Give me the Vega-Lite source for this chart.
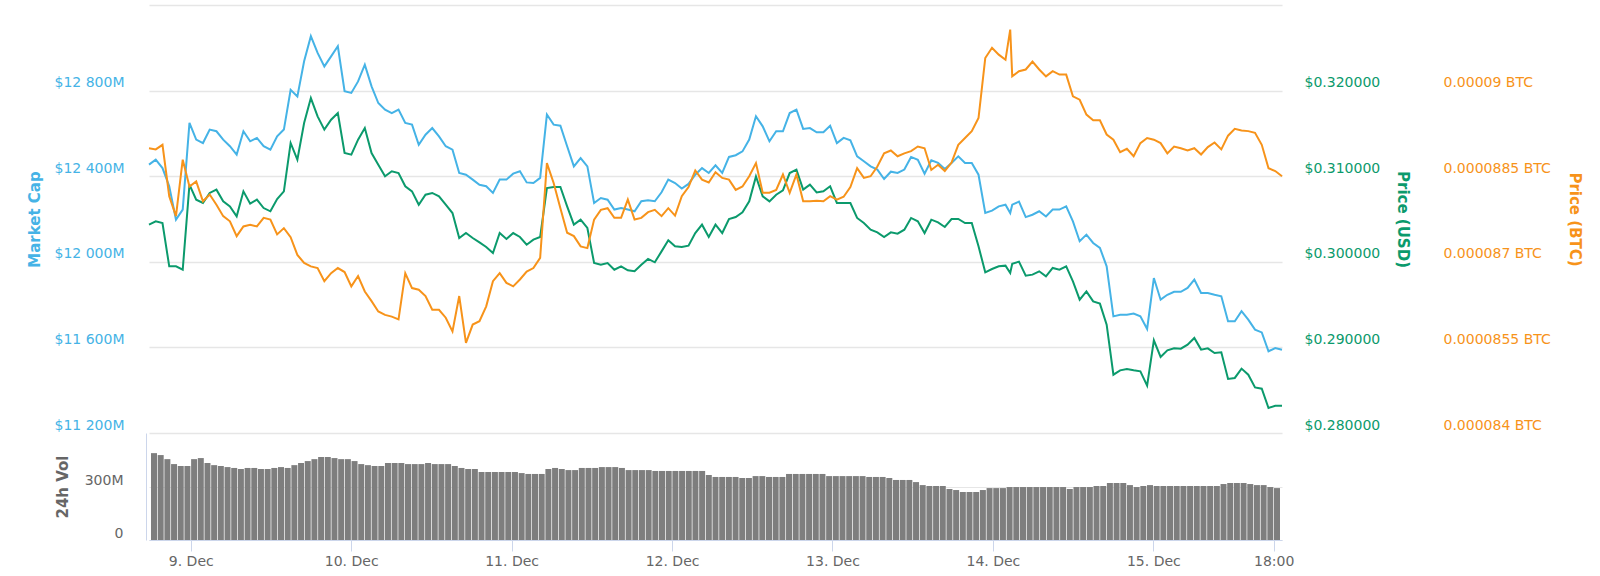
{
  "$schema": "https://vega.github.io/schema/vega-lite/v6.json",
  "description": "Market cap, price (USD and BTC) and 24h volume over seven days, 8 to 15 December.",
  "background": "white",
  "padding": {"left": 27, "top": 5, "right": 8, "bottom": 0},
  "spacing": 0,
  "config": {
    "font": "DejaVu Sans",
    "view": {"stroke": null},
    "axis": {"labelFont": "DejaVu Sans", "titleFont": "DejaVu Sans", "labelFontSize": 14, "titleFontSize": 15, "titleFontWeight": "bold", "grid": false, "domain": false, "ticks": false}
  },
  "data": {"values": [
    {"time": "2018-12-08T18:30", "market_cap": 12454, "price_usd": 0.30434, "price_btc": 0.00008899, "volume": 492},
    {"time": "2018-12-08T19:30", "market_cap": 12477, "price_usd": 0.30473, "price_btc": 0.00008897, "volume": 481},
    {"time": "2018-12-08T20:30", "market_cap": 12438, "price_usd": 0.30453, "price_btc": 0.00008905, "volume": 458},
    {"time": "2018-12-08T21:30", "market_cap": 12353, "price_usd": 0.29947, "price_btc": 0.00008815, "volume": 430},
    {"time": "2018-12-08T22:30", "market_cap": 12197, "price_usd": 0.29947, "price_btc": 0.0000878, "volume": 419},
    {"time": "2018-12-08T23:30", "market_cap": 12244, "price_usd": 0.29908, "price_btc": 0.00008879, "volume": 419},
    {"time": "2018-12-09T00:30", "market_cap": 12649, "price_usd": 0.30901, "price_btc": 0.00008832, "volume": 458},
    {"time": "2018-12-09T01:30", "market_cap": 12571, "price_usd": 0.30726, "price_btc": 0.00008841, "volume": 464},
    {"time": "2018-12-09T02:30", "market_cap": 12555, "price_usd": 0.30687, "price_btc": 0.00008806, "volume": 436},
    {"time": "2018-12-09T03:30", "market_cap": 12618, "price_usd": 0.30804, "price_btc": 0.00008818, "volume": 424},
    {"time": "2018-12-09T04:30", "market_cap": 12610, "price_usd": 0.30843, "price_btc": 0.000088, "volume": 419},
    {"time": "2018-12-09T05:30", "market_cap": 12571, "price_usd": 0.30706, "price_btc": 0.0000878, "volume": 413},
    {"time": "2018-12-09T06:30", "market_cap": 12540, "price_usd": 0.30648, "price_btc": 0.00008771, "volume": 408},
    {"time": "2018-12-09T07:30", "market_cap": 12501, "price_usd": 0.30531, "price_btc": 0.00008745, "volume": 402},
    {"time": "2018-12-09T08:30", "market_cap": 12610, "price_usd": 0.30823, "price_btc": 0.00008762, "volume": 408},
    {"time": "2018-12-09T09:30", "market_cap": 12563, "price_usd": 0.30679, "price_btc": 0.00008765, "volume": 408},
    {"time": "2018-12-09T10:30", "market_cap": 12579, "price_usd": 0.30726, "price_btc": 0.00008762, "volume": 402},
    {"time": "2018-12-09T11:30", "market_cap": 12540, "price_usd": 0.30628, "price_btc": 0.00008777, "volume": 402},
    {"time": "2018-12-09T12:30", "market_cap": 12524, "price_usd": 0.3059, "price_btc": 0.00008774, "volume": 408},
    {"time": "2018-12-09T13:30", "market_cap": 12586, "price_usd": 0.30734, "price_btc": 0.00008748, "volume": 413},
    {"time": "2018-12-09T14:30", "market_cap": 12618, "price_usd": 0.30823, "price_btc": 0.00008759, "volume": 408},
    {"time": "2018-12-09T15:30", "market_cap": 12804, "price_usd": 0.31388, "price_btc": 0.00008743, "volume": 424},
    {"time": "2018-12-09T16:30", "market_cap": 12773, "price_usd": 0.31193, "price_btc": 0.00008712, "volume": 436},
    {"time": "2018-12-09T17:30", "market_cap": 12937, "price_usd": 0.31621, "price_btc": 0.00008698, "volume": 447},
    {"time": "2018-12-09T18:30", "market_cap": 13054, "price_usd": 0.31913, "price_btc": 0.00008692, "volume": 458},
    {"time": "2018-12-09T19:30", "market_cap": 12976, "price_usd": 0.31699, "price_btc": 0.00008689, "volume": 470},
    {"time": "2018-12-09T20:30", "market_cap": 12913, "price_usd": 0.31544, "price_btc": 0.00008666, "volume": 470},
    {"time": "2018-12-09T21:30", "market_cap": 12960, "price_usd": 0.3166, "price_btc": 0.0000868, "volume": 464},
    {"time": "2018-12-09T22:30", "market_cap": 13007, "price_usd": 0.31738, "price_btc": 0.00008689, "volume": 458},
    {"time": "2018-12-09T23:30", "market_cap": 12797, "price_usd": 0.31271, "price_btc": 0.00008682, "volume": 458},
    {"time": "2018-12-10T00:30", "market_cap": 12789, "price_usd": 0.31252, "price_btc": 0.00008657, "volume": 447},
    {"time": "2018-12-10T01:30", "market_cap": 12843, "price_usd": 0.31427, "price_btc": 0.00008675, "volume": 430},
    {"time": "2018-12-10T02:30", "market_cap": 12921, "price_usd": 0.31563, "price_btc": 0.00008648, "volume": 424},
    {"time": "2018-12-10T03:30", "market_cap": 12820, "price_usd": 0.31271, "price_btc": 0.00008631, "volume": 419},
    {"time": "2018-12-10T04:30", "market_cap": 12742, "price_usd": 0.31135, "price_btc": 0.00008613, "volume": 419},
    {"time": "2018-12-10T05:30", "market_cap": 12711, "price_usd": 0.30998, "price_btc": 0.00008607, "volume": 436},
    {"time": "2018-12-10T06:30", "market_cap": 12695, "price_usd": 0.31057, "price_btc": 0.00008604, "volume": 436},
    {"time": "2018-12-10T07:30", "market_cap": 12711, "price_usd": 0.31037, "price_btc": 0.00008599, "volume": 436},
    {"time": "2018-12-10T08:30", "market_cap": 12649, "price_usd": 0.30882, "price_btc": 0.0000868, "volume": 430},
    {"time": "2018-12-10T09:30", "market_cap": 12641, "price_usd": 0.30823, "price_btc": 0.00008654, "volume": 430},
    {"time": "2018-12-10T10:30", "market_cap": 12547, "price_usd": 0.30667, "price_btc": 0.00008651, "volume": 430},
    {"time": "2018-12-10T11:30", "market_cap": 12594, "price_usd": 0.30784, "price_btc": 0.0000864, "volume": 436},
    {"time": "2018-12-10T12:30", "market_cap": 12625, "price_usd": 0.30804, "price_btc": 0.00008616, "volume": 430},
    {"time": "2018-12-10T13:30", "market_cap": 12586, "price_usd": 0.30765, "price_btc": 0.00008616, "volume": 430},
    {"time": "2018-12-10T14:30", "market_cap": 12540, "price_usd": 0.30667, "price_btc": 0.00008602, "volume": 430},
    {"time": "2018-12-10T15:30", "market_cap": 12524, "price_usd": 0.3057, "price_btc": 0.00008578, "volume": 419},
    {"time": "2018-12-10T16:30", "market_cap": 12415, "price_usd": 0.30278, "price_btc": 0.0000864, "volume": 408},
    {"time": "2018-12-10T17:30", "market_cap": 12407, "price_usd": 0.30336, "price_btc": 0.00008558, "volume": 402},
    {"time": "2018-12-10T18:30", "market_cap": 12384, "price_usd": 0.30278, "price_btc": 0.0000859, "volume": 402},
    {"time": "2018-12-10T19:30", "market_cap": 12360, "price_usd": 0.30227, "price_btc": 0.00008596, "volume": 385},
    {"time": "2018-12-10T20:30", "market_cap": 12353, "price_usd": 0.30173, "price_btc": 0.00008622, "volume": 385},
    {"time": "2018-12-10T21:30", "market_cap": 12322, "price_usd": 0.30103, "price_btc": 0.00008666, "volume": 385},
    {"time": "2018-12-10T22:30", "market_cap": 12384, "price_usd": 0.30336, "price_btc": 0.0000868, "volume": 385},
    {"time": "2018-12-10T23:30", "market_cap": 12384, "price_usd": 0.30266, "price_btc": 0.00008663, "volume": 385},
    {"time": "2018-12-11T00:30", "market_cap": 12412, "price_usd": 0.30336, "price_btc": 0.00008657, "volume": 385},
    {"time": "2018-12-11T01:30", "market_cap": 12423, "price_usd": 0.3029, "price_btc": 0.00008669, "volume": 379},
    {"time": "2018-12-11T02:30", "market_cap": 12371, "price_usd": 0.302, "price_btc": 0.00008683, "volume": 374},
    {"time": "2018-12-11T03:30", "market_cap": 12368, "price_usd": 0.30259, "price_btc": 0.00008689, "volume": 374},
    {"time": "2018-12-11T04:30", "market_cap": 12392, "price_usd": 0.3029, "price_btc": 0.00008707, "volume": 374},
    {"time": "2018-12-11T05:30", "market_cap": 12688, "price_usd": 0.30862, "price_btc": 0.00008873, "volume": 402},
    {"time": "2018-12-11T06:30", "market_cap": 12641, "price_usd": 0.30874, "price_btc": 0.00008838, "volume": 408},
    {"time": "2018-12-11T07:30", "market_cap": 12636, "price_usd": 0.30874, "price_btc": 0.00008794, "volume": 402},
    {"time": "2018-12-11T08:30", "market_cap": 12540, "price_usd": 0.30648, "price_btc": 0.00008751, "volume": 396},
    {"time": "2018-12-11T09:30", "market_cap": 12446, "price_usd": 0.30434, "price_btc": 0.00008745, "volume": 396},
    {"time": "2018-12-11T10:30", "market_cap": 12485, "price_usd": 0.30492, "price_btc": 0.00008727, "volume": 408},
    {"time": "2018-12-11T11:30", "market_cap": 12446, "price_usd": 0.30395, "price_btc": 0.00008724, "volume": 408},
    {"time": "2018-12-11T12:30", "market_cap": 12275, "price_usd": 0.29986, "price_btc": 0.00008774, "volume": 408},
    {"time": "2018-12-11T13:30", "market_cap": 12298, "price_usd": 0.29966, "price_btc": 0.00008791, "volume": 413},
    {"time": "2018-12-11T14:30", "market_cap": 12290, "price_usd": 0.29986, "price_btc": 0.00008794, "volume": 413},
    {"time": "2018-12-11T15:30", "market_cap": 12244, "price_usd": 0.29908, "price_btc": 0.00008777, "volume": 413},
    {"time": "2018-12-11T16:30", "market_cap": 12251, "price_usd": 0.29947, "price_btc": 0.00008777, "volume": 408},
    {"time": "2018-12-11T17:30", "market_cap": 12244, "price_usd": 0.299, "price_btc": 0.00008809, "volume": 396},
    {"time": "2018-12-11T18:30", "market_cap": 12236, "price_usd": 0.29889, "price_btc": 0.00008774, "volume": 396},
    {"time": "2018-12-11T19:30", "market_cap": 12283, "price_usd": 0.29966, "price_btc": 0.00008777, "volume": 396},
    {"time": "2018-12-11T20:30", "market_cap": 12287, "price_usd": 0.30033, "price_btc": 0.00008787, "volume": 396},
    {"time": "2018-12-11T21:30", "market_cap": 12283, "price_usd": 0.29994, "price_btc": 0.00008791, "volume": 391},
    {"time": "2018-12-11T22:30", "market_cap": 12325, "price_usd": 0.30122, "price_btc": 0.0000878, "volume": 391},
    {"time": "2018-12-11T23:30", "market_cap": 12384, "price_usd": 0.30251, "price_btc": 0.00008794, "volume": 391},
    {"time": "2018-12-12T00:30", "market_cap": 12368, "price_usd": 0.30181, "price_btc": 0.00008781, "volume": 391},
    {"time": "2018-12-12T01:30", "market_cap": 12342, "price_usd": 0.30173, "price_btc": 0.00008815, "volume": 391},
    {"time": "2018-12-12T02:30", "market_cap": 12364, "price_usd": 0.30188, "price_btc": 0.00008831, "volume": 391},
    {"time": "2018-12-12T03:30", "market_cap": 12407, "price_usd": 0.30336, "price_btc": 0.0000886, "volume": 391},
    {"time": "2018-12-12T04:30", "market_cap": 12438, "price_usd": 0.30434, "price_btc": 0.00008844, "volume": 391},
    {"time": "2018-12-12T05:30", "market_cap": 12415, "price_usd": 0.3029, "price_btc": 0.00008839, "volume": 368},
    {"time": "2018-12-12T06:30", "market_cap": 12451, "price_usd": 0.30434, "price_btc": 0.00008857, "volume": 357},
    {"time": "2018-12-12T07:30", "market_cap": 12415, "price_usd": 0.30336, "price_btc": 0.00008847, "volume": 357},
    {"time": "2018-12-12T08:30", "market_cap": 12490, "price_usd": 0.305, "price_btc": 0.00008844, "volume": 357},
    {"time": "2018-12-12T09:30", "market_cap": 12498, "price_usd": 0.30523, "price_btc": 0.00008826, "volume": 357},
    {"time": "2018-12-12T10:30", "market_cap": 12516, "price_usd": 0.30578, "price_btc": 0.00008832, "volume": 351},
    {"time": "2018-12-12T11:30", "market_cap": 12571, "price_usd": 0.30706, "price_btc": 0.0000885, "volume": 351},
    {"time": "2018-12-12T12:30", "market_cap": 12680, "price_usd": 0.30998, "price_btc": 0.00008873, "volume": 362},
    {"time": "2018-12-12T13:30", "market_cap": 12633, "price_usd": 0.30765, "price_btc": 0.00008821, "volume": 362},
    {"time": "2018-12-12T14:30", "market_cap": 12563, "price_usd": 0.30706, "price_btc": 0.00008821, "volume": 357},
    {"time": "2018-12-12T15:30", "market_cap": 12610, "price_usd": 0.30784, "price_btc": 0.00008826, "volume": 357},
    {"time": "2018-12-12T16:30", "market_cap": 12610, "price_usd": 0.30835, "price_btc": 0.00008853, "volume": 357},
    {"time": "2018-12-12T17:30", "market_cap": 12695, "price_usd": 0.31037, "price_btc": 0.00008821, "volume": 374},
    {"time": "2018-12-12T18:30", "market_cap": 12711, "price_usd": 0.31076, "price_btc": 0.00008853, "volume": 374},
    {"time": "2018-12-12T19:30", "market_cap": 12621, "price_usd": 0.30843, "price_btc": 0.00008806, "volume": 374},
    {"time": "2018-12-12T20:30", "market_cap": 12625, "price_usd": 0.30901, "price_btc": 0.00008806, "volume": 374},
    {"time": "2018-12-12T21:30", "market_cap": 12605, "price_usd": 0.30811, "price_btc": 0.00008807, "volume": 374},
    {"time": "2018-12-12T22:30", "market_cap": 12605, "price_usd": 0.30823, "price_btc": 0.00008806, "volume": 374},
    {"time": "2018-12-12T23:30", "market_cap": 12636, "price_usd": 0.30882, "price_btc": 0.00008815, "volume": 362},
    {"time": "2018-12-13T00:30", "market_cap": 12555, "price_usd": 0.30687, "price_btc": 0.00008809, "volume": 362},
    {"time": "2018-12-13T01:30", "market_cap": 12579, "price_usd": 0.30687, "price_btc": 0.00008814, "volume": 362},
    {"time": "2018-12-13T02:30", "market_cap": 12568, "price_usd": 0.30687, "price_btc": 0.00008831, "volume": 362},
    {"time": "2018-12-13T03:30", "market_cap": 12493, "price_usd": 0.30512, "price_btc": 0.00008864, "volume": 362},
    {"time": "2018-12-13T04:30", "market_cap": 12470, "price_usd": 0.30453, "price_btc": 0.00008847, "volume": 362},
    {"time": "2018-12-13T05:30", "market_cap": 12446, "price_usd": 0.30375, "price_btc": 0.0000885, "volume": 357},
    {"time": "2018-12-13T06:30", "market_cap": 12431, "price_usd": 0.30344, "price_btc": 0.00008867, "volume": 357},
    {"time": "2018-12-13T07:30", "market_cap": 12387, "price_usd": 0.3029, "price_btc": 0.0000889, "volume": 357},
    {"time": "2018-12-13T08:30", "market_cap": 12421, "price_usd": 0.30344, "price_btc": 0.00008895, "volume": 351},
    {"time": "2018-12-13T09:30", "market_cap": 12415, "price_usd": 0.30329, "price_btc": 0.00008885, "volume": 340},
    {"time": "2018-12-13T10:30", "market_cap": 12431, "price_usd": 0.30375, "price_btc": 0.0000889, "volume": 340},
    {"time": "2018-12-13T11:30", "market_cap": 12490, "price_usd": 0.30512, "price_btc": 0.00008894, "volume": 340},
    {"time": "2018-12-13T12:30", "market_cap": 12477, "price_usd": 0.30473, "price_btc": 0.00008902, "volume": 328},
    {"time": "2018-12-13T13:30", "market_cap": 12412, "price_usd": 0.30336, "price_btc": 0.00008899, "volume": 311},
    {"time": "2018-12-13T14:30", "market_cap": 12474, "price_usd": 0.30492, "price_btc": 0.00008861, "volume": 306},
    {"time": "2018-12-13T15:30", "market_cap": 12462, "price_usd": 0.30461, "price_btc": 0.0000887, "volume": 306},
    {"time": "2018-12-13T16:30", "market_cap": 12434, "price_usd": 0.30407, "price_btc": 0.00008859, "volume": 306},
    {"time": "2018-12-13T17:30", "market_cap": 12462, "price_usd": 0.305, "price_btc": 0.00008874, "volume": 289},
    {"time": "2018-12-13T18:30", "market_cap": 12493, "price_usd": 0.305, "price_btc": 0.00008905, "volume": 283},
    {"time": "2018-12-13T19:30", "market_cap": 12462, "price_usd": 0.30453, "price_btc": 0.00008917, "volume": 272},
    {"time": "2018-12-13T20:30", "market_cap": 12462, "price_usd": 0.30453, "price_btc": 0.00008929, "volume": 272},
    {"time": "2018-12-13T21:30", "market_cap": 12407, "price_usd": 0.30181, "price_btc": 0.00008952, "volume": 272},
    {"time": "2018-12-13T22:30", "market_cap": 12228, "price_usd": 0.29877, "price_btc": 0.00009057, "volume": 283},
    {"time": "2018-12-13T23:30", "market_cap": 12239, "price_usd": 0.29916, "price_btc": 0.00009075, "volume": 294},
    {"time": "2018-12-14T00:30", "market_cap": 12259, "price_usd": 0.29947, "price_btc": 0.00009063, "volume": 294},
    {"time": "2018-12-14T01:30", "market_cap": 12267, "price_usd": 0.29955, "price_btc": 0.00009054, "volume": 294},
    {"time": "2018-12-14T02:12", "market_cap": 12228, "price_usd": 0.29869, "price_btc": 0.00009107},
    {"time": "2018-12-14T02:30", "market_cap": 12267, "price_usd": 0.29978, "price_btc": 0.00009025, "volume": 300},
    {"time": "2018-12-14T03:30", "market_cap": 12281, "price_usd": 0.30002, "price_btc": 0.00009034, "volume": 300},
    {"time": "2018-12-14T04:30", "market_cap": 12209, "price_usd": 0.29838, "price_btc": 0.00009037, "volume": 300},
    {"time": "2018-12-14T05:30", "market_cap": 12220, "price_usd": 0.2985, "price_btc": 0.00009051, "volume": 300},
    {"time": "2018-12-14T06:30", "market_cap": 12236, "price_usd": 0.29889, "price_btc": 0.00009037, "volume": 300},
    {"time": "2018-12-14T07:30", "market_cap": 12212, "price_usd": 0.2983, "price_btc": 0.00009025, "volume": 300},
    {"time": "2018-12-14T08:30", "market_cap": 12244, "price_usd": 0.29928, "price_btc": 0.00009034, "volume": 300},
    {"time": "2018-12-14T09:30", "market_cap": 12244, "price_usd": 0.29908, "price_btc": 0.00009028, "volume": 300},
    {"time": "2018-12-14T10:30", "market_cap": 12259, "price_usd": 0.29947, "price_btc": 0.00009028, "volume": 300},
    {"time": "2018-12-14T11:30", "market_cap": 12189, "price_usd": 0.29772, "price_btc": 0.0000899, "volume": 289},
    {"time": "2018-12-14T12:30", "market_cap": 12096, "price_usd": 0.29558, "price_btc": 0.00008984, "volume": 300},
    {"time": "2018-12-14T13:30", "market_cap": 12127, "price_usd": 0.29655, "price_btc": 0.00008958, "volume": 300},
    {"time": "2018-12-14T14:30", "market_cap": 12088, "price_usd": 0.29538, "price_btc": 0.00008948, "volume": 300},
    {"time": "2018-12-14T15:30", "market_cap": 12065, "price_usd": 0.29511, "price_btc": 0.00008948, "volume": 306},
    {"time": "2018-12-14T16:30", "market_cap": 11979, "price_usd": 0.29266, "price_btc": 0.00008923, "volume": 306},
    {"time": "2018-12-14T17:30", "market_cap": 11745, "price_usd": 0.28681, "price_btc": 0.00008914, "volume": 323},
    {"time": "2018-12-14T18:30", "market_cap": 11753, "price_usd": 0.28732, "price_btc": 0.00008892, "volume": 323},
    {"time": "2018-12-14T19:30", "market_cap": 11753, "price_usd": 0.28748, "price_btc": 0.00008898, "volume": 323},
    {"time": "2018-12-14T20:30", "market_cap": 11758, "price_usd": 0.28732, "price_btc": 0.00008885, "volume": 311},
    {"time": "2018-12-14T21:30", "market_cap": 11745, "price_usd": 0.2872, "price_btc": 0.00008908, "volume": 300},
    {"time": "2018-12-14T22:30", "market_cap": 11686, "price_usd": 0.28553, "price_btc": 0.00008917, "volume": 306},
    {"time": "2018-12-14T23:30", "market_cap": 11924, "price_usd": 0.29083, "price_btc": 0.00008914, "volume": 311},
    {"time": "2018-12-15T00:30", "market_cap": 11823, "price_usd": 0.28888, "price_btc": 0.00008908, "volume": 306},
    {"time": "2018-12-15T01:30", "market_cap": 11846, "price_usd": 0.28966, "price_btc": 0.0000889, "volume": 306},
    {"time": "2018-12-15T02:30", "market_cap": 11860, "price_usd": 0.28989, "price_btc": 0.00008902, "volume": 306},
    {"time": "2018-12-15T03:30", "market_cap": 11860, "price_usd": 0.28985, "price_btc": 0.00008899, "volume": 306},
    {"time": "2018-12-15T04:30", "market_cap": 11878, "price_usd": 0.29032, "price_btc": 0.00008895, "volume": 306},
    {"time": "2018-12-15T05:30", "market_cap": 11917, "price_usd": 0.2911, "price_btc": 0.00008899, "volume": 306},
    {"time": "2018-12-15T06:30", "market_cap": 11854, "price_usd": 0.28974, "price_btc": 0.00008888, "volume": 306},
    {"time": "2018-12-15T07:30", "market_cap": 11854, "price_usd": 0.28989, "price_btc": 0.00008901, "volume": 306},
    {"time": "2018-12-15T08:30", "market_cap": 11846, "price_usd": 0.28935, "price_btc": 0.00008909, "volume": 306},
    {"time": "2018-12-15T09:30", "market_cap": 11839, "price_usd": 0.28942, "price_btc": 0.00008897, "volume": 306},
    {"time": "2018-12-15T10:30", "market_cap": 11722, "price_usd": 0.28631, "price_btc": 0.00008921, "volume": 317},
    {"time": "2018-12-15T11:30", "market_cap": 11722, "price_usd": 0.28643, "price_btc": 0.00008933, "volume": 323},
    {"time": "2018-12-15T12:30", "market_cap": 11769, "price_usd": 0.28752, "price_btc": 0.0000893, "volume": 323},
    {"time": "2018-12-15T13:30", "market_cap": 11730, "price_usd": 0.28681, "price_btc": 0.00008929, "volume": 323},
    {"time": "2018-12-15T14:30", "market_cap": 11683, "price_usd": 0.28533, "price_btc": 0.00008926, "volume": 317},
    {"time": "2018-12-15T15:30", "market_cap": 11670, "price_usd": 0.28518, "price_btc": 0.00008905, "volume": 311},
    {"time": "2018-12-15T16:30", "market_cap": 11582, "price_usd": 0.28292, "price_btc": 0.00008864, "volume": 311},
    {"time": "2018-12-15T17:30", "market_cap": 11597, "price_usd": 0.28319, "price_btc": 0.00008859, "volume": 300},
    {"time": "2018-12-15T18:30", "market_cap": 11589, "price_usd": 0.28319, "price_btc": 0.0000885, "volume": 294}
  ]},
  "vconcat": [
    {
      "width": 1133,
      "height": 428,
      "encoding": {
        "x": {"field": "time", "type": "temporal",
          "scale": {"domain": [{"year": 2018, "month": 12, "date": 8, "hours": 18, "minutes": 30}, {"year": 2018, "month": 12, "date": 15, "hours": 18, "minutes": 30}], "nice": false},
          "axis": null}
      },
      "layer": [
        {
          "mark": {"type": "line", "color": "#45b3e6", "strokeWidth": 2},
          "encoding": {
            "y": {"field": "market_cap", "type": "quantitative",
              "scale": {"domain": [11200, 13200], "nice": false, "zero": false},
              "axis": {"orient": "left", "title": "Market Cap", "values": [11200, 11600, 12000, 12400, 12800, 13200],
                "labelExpr": "datum.value >= 13200 ? '' : '$' + replace(format(datum.value, ','), ',', ' ') + 'M'",
                "grid": true, "gridColor": "#e6e6e6", "gridWidth": 1.5,
                "labelColor": "#45b3e6", "titleColor": "#45b3e6", "labelPadding": 25, "labelOffset": -8, "titlePadding": 12}}
          }
        },
        {
          "mark": {"type": "line", "color": "#0b9a6c", "strokeWidth": 2},
          "encoding": {
            "y": {"field": "price_usd", "type": "quantitative",
              "scale": {"domain": [0.28, 0.33], "nice": false, "zero": false},
              "axis": {"orient": "right", "title": "Price (USD)", "values": [0.28, 0.29, 0.3, 0.31, 0.32],
                "labelExpr": "'$' + format(datum.value, '.6f')",
                "labelColor": "#0b9a6c", "titleColor": "#0b9a6c", "labelPadding": 22, "labelOffset": -8, "titlePadding": 15}}
          }
        },
        {
          "mark": {"type": "line", "color": "#f7931a", "strokeWidth": 2},
          "encoding": {
            "y": {"field": "price_btc", "type": "quantitative",
              "scale": {"domain": [0.000084, 0.0000915], "nice": false, "zero": false},
              "axis": {"orient": "right", "offset": 139, "title": "Price (BTC)", "values": [0.000084, 0.0000855, 0.000087, 0.0000885, 0.00009],
                "labelExpr": "format(datum.value, '.7~f') + ' BTC'",
                "labelColor": "#f7931a", "titleColor": "#f7931a", "labelPadding": 22, "labelOffset": -8, "titlePadding": 16}}
          }
        }
      ],
      "resolve": {"scale": {"y": "independent"}, "axis": {"y": "independent"}}
    },
    {
      "width": 1133,
      "height": 107,
      "mark": {"type": "bar", "width": 6, "color": "#7e7e7e", "clip": true, "invalid": "filter"},
      "encoding": {
        "x": {"field": "time", "type": "temporal",
          "scale": {"domain": [{"year": 2018, "month": 12, "date": 8, "hours": 18, "minutes": 30}, {"year": 2018, "month": 12, "date": 15, "hours": 18, "minutes": 30}], "nice": false},
          "axis": {"title": null,
            "values": [{"year": 2018, "month": 12, "date": 9}, {"year": 2018, "month": 12, "date": 10}, {"year": 2018, "month": 12, "date": 11}, {"year": 2018, "month": 12, "date": 12}, {"year": 2018, "month": 12, "date": 13}, {"year": 2018, "month": 12, "date": 14}, {"year": 2018, "month": 12, "date": 15}, {"year": 2018, "month": 12, "date": 15, "hours": 18}],
            "labelExpr": "hours(datum.value) == 18 ? timeFormat(datum.value, '%H:%M') : timeFormat(datum.value, '%-d. %b')",
            "domain": true, "domainColor": "#ccd6eb", "ticks": true, "tickColor": "#ccd6eb", "tickSize": 11,
            "labelColor": "#666666", "labelPadding": 3, "labelFlush": false}},
        "y": {"field": "volume", "type": "quantitative",
          "scale": {"domain": [0, 606], "nice": false},
          "axis": {"title": "24h Vol", "values": [0, 300],
            "labelExpr": "datum.value == 0 ? '0' : datum.value + 'M'",
            "grid": true, "gridColor": "#e6e6e6",
            "domain": true, "domainColor": "#ccd6eb", "offset": 3,
            "labelColor": "#666666", "titleColor": "#666666", "labelPadding": 23, "labelOffset": -7, "titlePadding": 14}}
      }
    }
  ]
}
